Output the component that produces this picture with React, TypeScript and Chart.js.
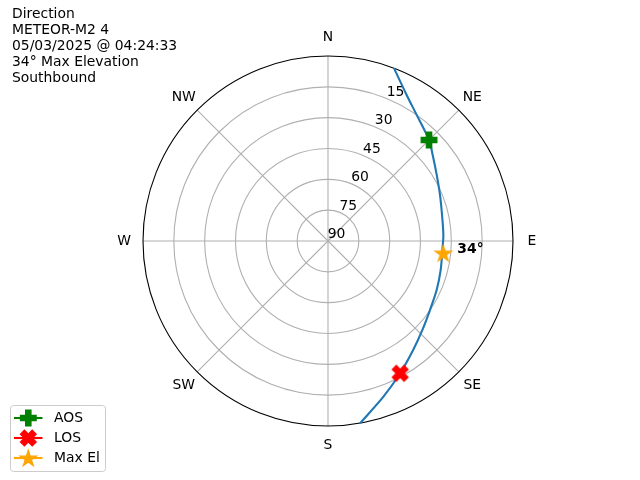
import React, { useEffect, useRef } from "react";
import { Chart, registerables } from "chart.js";

Chart.register(...registerables);

// ---- data ----
const TITLE_LINES = ["Direction", "METEOR-M2 4", "05/03/2025 @ 04:24:33", "34° Max Elevation", "Southbound"];
const COMPASS_LABELS = ["N", "NE", "E", "SE", "S", "SW", "W", "NW"];
const COMPASS_AZ = [0, 45, 90, 135, 180, 225, 270, 315];
const ELEV_TICKS = [90, 75, 60, 45, 30, 15];
const ELEV_LABEL_AZ = 22.5;

const TRACK_AZ = [20.9, 28.3, 35.1, 45.0, 50.6, 58.7, 67.7, 77.2, 87.0, 94.5, 104.4, 114.3, 124.1, 133.3, 142.0, 151.4, 160.4, 170.0];
const TRACK_EL = [0, 9.3, 15.0, 20.5, 24.1, 28.1, 31.1, 33.1, 33.8, 34.2, 33.4, 32.0, 30.1, 26.9, 22.7, 16.7, 9.6, 0];

const AOS_AZ = [45.0];
const AOS_EL = [20.5];
const LOS_AZ = [151.4];
const LOS_EL = [16.7];
const MAXEL_AZ = [96];
const MAXEL_EL = [33.6];
const MAXEL_TEXT = "34°";

const LEGEND_LABELS = ["AOS", "LOS", "Max El"];

// ---- helpers ----
const FONT = "13.9px 'DejaVu Sans', sans-serif";
const BOLD_FONT = "bold 13.9px 'DejaVu Sans', sans-serif";

function toXY(az: number, el: number) {
  const r = 90 - el;
  const a = (az * Math.PI) / 180;
  return { x: r * Math.sin(a), y: r * Math.cos(a) };
}

type Drawer = (ctx: CanvasRenderingContext2D, cx: number, cy: number) => void;

function plusPath(ctx: CanvasRenderingContext2D, cx: number, cy: number, s: number) {
  const a = s / 6, b = s / 2;
  const pts = [[-a, -b], [a, -b], [a, -a], [b, -a], [b, a], [a, a], [a, b], [-a, b], [-a, a], [-b, a], [-b, -a], [-a, -a]];
  ctx.beginPath();
  pts.forEach(([x, y], i) => (i ? ctx.lineTo(cx + x, cy + y) : ctx.moveTo(cx + x, cy + y)));
  ctx.closePath();
}
function xPath(ctx: CanvasRenderingContext2D, cx: number, cy: number, s: number) {
  const pts = [[-0.25, -0.5], [0, -0.25], [0.25, -0.5], [0.5, -0.25], [0.25, 0], [0.5, 0.25], [0.25, 0.5], [0, 0.25], [-0.25, 0.5], [-0.5, 0.25], [-0.25, 0], [-0.5, -0.25]];
  ctx.beginPath();
  pts.forEach(([x, y], i) => (i ? ctx.lineTo(cx + x * s, cy + y * s) : ctx.moveTo(cx + x * s, cy + y * s)));
  ctx.closePath();
}
function starPath(ctx: CanvasRenderingContext2D, cx: number, cy: number, R: number) {
  const r = R * 0.381966;
  ctx.beginPath();
  for (let i = 0; i < 10; i++) {
    const ang = (i * Math.PI) / 5;
    const rad = i % 2 === 0 ? R : r;
    const x = cx + rad * Math.sin(ang);
    const y = cy - rad * Math.cos(ang);
    i ? ctx.lineTo(x, y) : ctx.moveTo(x, y);
  }
  ctx.closePath();
}

const drawAOS: Drawer = (ctx, cx, cy) => {
  plusPath(ctx, cx, cy, 15.5);
  ctx.fillStyle = "green"; ctx.strokeStyle = "green"; ctx.lineWidth = 1.4; ctx.lineJoin = "miter";
  ctx.fill(); ctx.stroke();
};
const drawLOS: Drawer = (ctx, cx, cy) => {
  xPath(ctx, cx, cy, 15.5);
  ctx.fillStyle = "red"; ctx.strokeStyle = "red"; ctx.lineWidth = 1.4; ctx.lineJoin = "miter";
  ctx.fill(); ctx.stroke();
};
const drawStar: Drawer = (ctx, cx, cy) => {
  starPath(ctx, cx, cy + 0.8, 8.6);
  ctx.fillStyle = "orange"; ctx.strokeStyle = "orange"; ctx.lineWidth = 1.2; ctx.lineJoin = "miter";
  ctx.fill(); ctx.stroke();
};

function makeMarker(draw: Drawer) {
  const c = document.createElement("canvas");
  c.width = 24; c.height = 24;
  const ctx = c.getContext("2d")!;
  draw(ctx, 12, 12);
  return c;
}

const LEGEND_COLORS = ["green", "red", "orange"];
const LEGEND_DRAWERS = [drawAOS, drawLOS, drawStar];

const polarPlugin = {
  id: "polarGrid",
  beforeDatasetsDraw(chart: any) {
    const { ctx } = chart;
    const xs = chart.scales.x, ys = chart.scales.y;
    const px = (az: number, el: number) => {
      const p = toXY(az, el);
      return { x: xs.getPixelForValue(p.x), y: ys.getPixelForValue(p.y) };
    };
    const c = px(0, 90);
    const R = xs.getPixelForValue(90) - c.x;
    ctx.save();
    ctx.strokeStyle = "#b0b0b0";
    ctx.lineWidth = 1.1;
    ELEV_TICKS.forEach((el) => {
      if (el <= 0 || el >= 90) return;
      const r = xs.getPixelForValue(90 - el) - c.x;
      ctx.beginPath();
      ctx.arc(c.x, c.y, r, 0, Math.PI * 2);
      ctx.stroke();
    });
    COMPASS_AZ.forEach((az) => {
      const e = px(az, 0);
      ctx.beginPath();
      ctx.moveTo(c.x, c.y);
      ctx.lineTo(e.x, e.y);
      ctx.stroke();
    });
    ctx.strokeStyle = "#000";
    ctx.beginPath();
    ctx.arc(c.x, c.y, R, 0, Math.PI * 2);
    ctx.stroke();

    ctx.fillStyle = "#000";
    ctx.font = FONT;
    ctx.textAlign = "center";
    ctx.textBaseline = "middle";
    COMPASS_AZ.forEach((az, i) => {
      const a = (az * Math.PI) / 180;
      ctx.fillText(COMPASS_LABELS[i], c.x + (R + 19) * Math.sin(a), c.y - (R + 19) * Math.cos(a) + 0.5);
    });
    ELEV_TICKS.forEach((el) => {
      const p = px(ELEV_LABEL_AZ, el);
      ctx.fillText(String(el), p.x + 8.5, p.y - 6.5);
    });
    ctx.restore();
  },
  afterDraw(chart: any) {
    const { ctx } = chart;
    const xs = chart.scales.x, ys = chart.scales.y;
    ctx.save();
    // Max elevation annotation
    const m = toXY(MAXEL_AZ[0], MAXEL_EL[0]);
    ctx.font = BOLD_FONT;
    ctx.fillStyle = "#000";
    ctx.textAlign = "left";
    ctx.textBaseline = "middle";
    ctx.fillText(MAXEL_TEXT, xs.getPixelForValue(m.x) + 14, ys.getPixelForValue(m.y) - 3.5);

    // title text
    ctx.font = FONT;
    ctx.textBaseline = "alphabetic";
    TITLE_LINES.forEach((t, i) => ctx.fillText(t, 12, 17.5 + i * 16));

    // legend
    const bx = 10.5, by = 405.5, bw = 95, bh = 66;
    ctx.beginPath();
    (ctx as any).roundRect(bx, by, bw, bh, 3);
    ctx.fillStyle = "rgba(255,255,255,0.8)";
    ctx.fill();
    ctx.strokeStyle = "#cccccc";
    ctx.lineWidth = 1;
    ctx.stroke();
    LEGEND_LABELS.forEach((lab, i) => {
      const yy = 418 + i * 20;
      ctx.strokeStyle = LEGEND_COLORS[i];
      ctx.lineWidth = 2.1;
      ctx.beginPath();
      ctx.moveTo(14, yy);
      ctx.lineTo(42.5, yy);
      ctx.stroke();
      LEGEND_DRAWERS[i](ctx, 28.3, yy);
      ctx.fillStyle = "#000";
      ctx.font = FONT;
      ctx.textAlign = "left";
      ctx.textBaseline = "middle";
      ctx.fillText(lab, 54, yy);
    });
    ctx.restore();
  },
};

export default function App() {
  const ref = useRef<HTMLCanvasElement | null>(null);
  useEffect(() => {
    if (!ref.current) return;
    const aos = makeMarker(drawAOS);
    const los = makeMarker(drawLOS);
    const star = makeMarker(drawStar);
    const track = TRACK_AZ.map((az, i) => toXY(az, TRACK_EL[i]));
    const chart = new Chart(ref.current, {
      type: "scatter",
      data: {
        datasets: [
          { label: LEGEND_LABELS[0], data: AOS_AZ.map((az, i) => toXY(az, AOS_EL[i])), pointStyle: aos as any, pointRadius: 8, showLine: false, order: 0 },
          { label: LEGEND_LABELS[1], data: LOS_AZ.map((az, i) => toXY(az, LOS_EL[i])), pointStyle: los as any, pointRadius: 8, showLine: false, order: 0 },
          { label: LEGEND_LABELS[2], data: MAXEL_AZ.map((az, i) => toXY(az, MAXEL_EL[i])), pointStyle: star as any, pointRadius: 8, showLine: false, order: 0 },
          { label: "track", data: track, showLine: true, borderColor: "#1f77b4", borderWidth: 2.1, pointRadius: 0, tension: 0.3, order: 5 } as any,
        ],
      },
      options: {
        animation: false,
        responsive: false,
        devicePixelRatio: 1,
        events: [],
        layout: { padding: { left: 143, right: 127, top: 56, bottom: 54 } },
        scales: {
          x: { type: "linear", min: -90, max: 90, display: false },
          y: { type: "linear", min: -90, max: 90, display: false },
        },
        plugins: { legend: { display: false }, tooltip: { enabled: false }, title: { display: false } },
      },
      plugins: [polarPlugin],
    });
    return () => chart.destroy();
  }, []);
  return (
    <div style={{ position: "absolute", left: 0, top: 0, width: 640, height: 480, background: "#fff" }}>
      <canvas ref={ref} width={640} height={480} style={{ display: "block" }} />
    </div>
  );
}
